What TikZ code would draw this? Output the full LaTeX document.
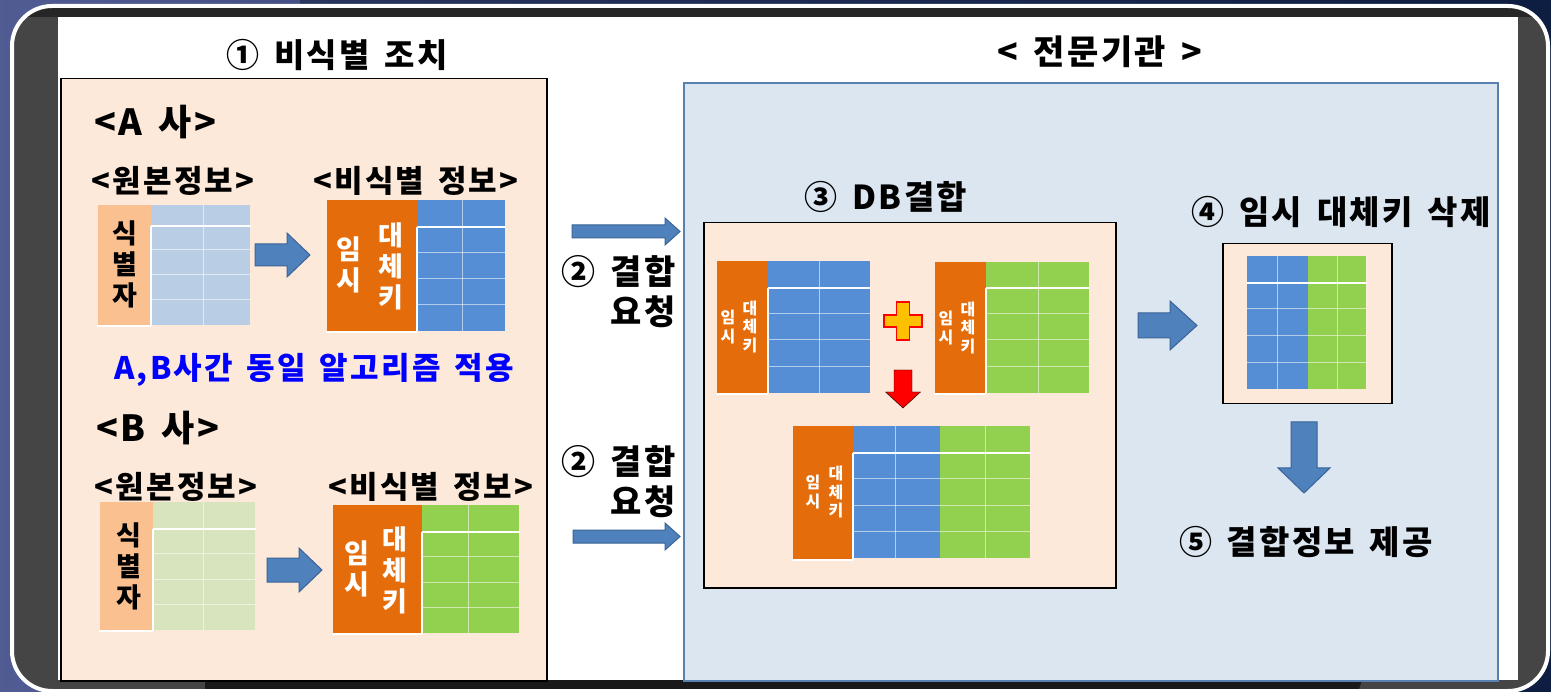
\documentclass[tikz,border=0pt]{standalone}
\usepackage{fontspec}
\setmainfont{Noto Sans CJK KR}[LetterSpace=7, WordSpace=1.5]
\usetikzlibrary{positioning}
\definecolor{navy}{HTML}{10224A}
\definecolor{framegray}{HTML}{454545}
\definecolor{pinkbg}{HTML}{FDE9D9}
\definecolor{lblue}{HTML}{B9CDE5}
\definecolor{lgreen}{HTML}{D7E4BD}
\definecolor{identc}{HTML}{FAC090}
\definecolor{orangec}{HTML}{E46C0A}
\definecolor{bluec}{HTML}{558ED5}
\definecolor{greenc}{HTML}{92D050}
\definecolor{rpanel}{HTML}{DCE6F1}
\definecolor{rborder}{HTML}{5A80B2}
\definecolor{arrowblue}{HTML}{4F81BD}
\definecolor{arrowborder}{HTML}{3A6496}
\definecolor{plusfill}{HTML}{FFC000}
\newcommand\cellblock[7]{%
  \fill[#7] (#1,#4) rectangle (#3,#6);
  \draw[gridline] (#2,#4) -- (#2,#6);
  \foreach \k in {1,2,3}{\pgfmathsetmacro\yy{#5+\k*(#6-#5)/4}\draw[gridline] (#1,\yy) -- (#3,\yy);}
}
\newcommand\hdrline[3]{\draw[white, line width=2.5pt] (#1,#3) -- (#2,#3);}
\newcommand\rarrow[6]{\filldraw[blockarrow] (#1,#4-#5) -- (#2,#4-#5) -- (#2,#4-#6) -- (#3,#4) -- (#2,#4+#6) -- (#2,#4+#5) -- (#1,#4+#5) -- cycle;}
\newcommand\darrow[7]{\filldraw[#7] (#1-#5,#2) -- (#1+#5,#2) -- (#1+#5,#3) -- (#1+#6,#3) -- (#1,#4) -- (#1-#6,#3) -- (#1-#5,#3) -- cycle;}
\begin{document}
\begin{tikzpicture}[x=1pt,y=-1pt,
  title/.style={font=\bfseries\fontsize{33}{36}\selectfont, inner sep=0pt},
  sub/.style={font=\bfseries\fontsize{31}{33}\selectfont, inner sep=0pt},
  req/.style={font=\bfseries\fontsize{34}{40}\selectfont, inner sep=0pt, align=right},
  vtext/.style={font=\bfseries\fontsize{27}{31}\selectfont, align=center, inner sep=0pt},
  vsmall/.style={font=\bfseries\fontsize{16}{18.5}\selectfont, align=center, inner sep=0pt, text=white},
  panel/.style={draw=black, line width=1.5pt, fill=pinkbg, inner sep=0pt, anchor=north west},
  gridline/.style={white, opacity=0.55, line width=1pt},
  blockarrow/.style={fill=arrowblue, draw=arrowborder, line width=1pt},
]
\useasboundingbox (0,0) rectangle (1551,692);
% background frame
\shade[left color=navy!70!blue!60!white!70!navy, right color=navy] (0,0) rectangle (1551,692);
\fill[navy!80!black, opacity=0.5] (300,0) rectangle (1551,692);
\begin{scope}
  \clip[rounded corners=40pt] (12,6) rectangle (1548,691);
  \fill[framegray] (0,0) rectangle (1551,692);
  \fill[black!85] (0,6) rectangle (1551,17);
  \fill[black!90] (205,680) -- (1362,680) -- (1358,692) -- (205,692) -- cycle;
\end{scope}
\draw[white, line width=4pt, rounded corners=40pt] (12,6) rectangle (1548,691);
\fill[white] (58,17) rectangle (1518,680);

% panels
\node[panel, minimum width=486pt, minimum height=602pt] (lp) at (60,78) {};
\node[draw=rborder, line width=1.8pt, fill=rpanel, inner sep=0pt, anchor=north west, minimum width=814pt, minimum height=598pt] (rp) at (683,82) {};

% titles
\node[title] (t1) at (337,55) {① 비식별 조치};
\node[title, font=\bfseries\fontsize{34}{36}\selectfont] (t2) at (1100,52) {< 전문기관 >};

% A company
\node[title, font=\bfseries\fontsize{36}{38}\selectfont, anchor=west] (acomp) at (94,122) {<A 사>};
\node[sub] (aorig) at (173,181) {<원본정보>};
\node[sub] (adeid) at (416,181) {<비식별 정보>};
\fill[identc] (98,205) rectangle (151,325);
\cellblock{151}{203}{250}{205}{225}{325}{lblue}
\hdrline{151}{251}{226}
\draw[white, line width=1.5pt] (151,226) -- (151,325) (97,326) -- (151,326);
\node[vtext] (aid) at (125,264) {식\\별\\자};
\rarrow{255}{287}{310}{255}{11}{22}
\fill[orangec] (327,200) rectangle (417,331);
\cellblock{417}{462}{505}{200}{226}{331}{bluec}
\hdrline{417}{506}{227}
\draw[white, line width=1.5pt] (417,227) -- (417,331) (326,332) -- (417,332);
\node[vtext, text=white] (atmp1) at (349,265) {임\\시};
\node[vtext, text=white] (atmp2) at (391,266) {대\\체\\키};

\node[font=\bfseries\fontsize{31}{33}\selectfont, text=blue, inner sep=0pt] (alg) at (314,370) {A,B사간 동일 알고리즘 적용};

% B company
\node[title, font=\bfseries\fontsize{36}{38}\selectfont, anchor=west] (bcomp) at (96,428) {<B 사>};
\node[sub] (borig) at (176,487) {<원본정보>};
\node[sub] (bdeid) at (431,487) {<비식별 정보>};
\fill[identc] (100,502) rectangle (153,630);
\cellblock{153}{203}{255}{502}{528}{630}{lgreen}
\hdrline{153}{256}{529}
\draw[white, line width=1.5pt] (153,529) -- (153,630) (99,631) -- (153,631);
\node[vtext] (bid) at (129,566) {식\\별\\자};
\rarrow{267}{299}{322}{570}{12}{22}
\fill[orangec] (333,505) rectangle (422,633);
\cellblock{422}{468}{519}{505}{531}{633}{greenc}
\hdrline{422}{520}{532}
\draw[white, line width=1.5pt] (422,532) -- (422,633) (332,634) -- (422,634);
\node[vtext, text=white] (btmp1) at (357,569) {임\\시};
\node[vtext, text=white] (btmp2) at (395,570) {대\\체\\키};

% requests
\rarrow{572}{665}{680}{231.5}{6.5}{13.5}
\node[req, anchor=east] (req1) at (676,292) {② 결합\\요청};
\node[req, anchor=east] (req2) at (676,482) {② 결합\\요청};
\rarrow{573}{665}{680}{536.5}{6.5}{13.5}

% DB join
\node[title] (t3) at (886,197) {③ DB결합};
\node[panel, minimum width=412pt, minimum height=365pt] (db) at (703,222) {};
\fill[orangec] (717,261) rectangle (768,393);
\cellblock{768}{819}{870}{261}{287}{393}{bluec}
\hdrline{768}{871}{288}
\draw[white, line width=1.5pt] (768,288) -- (768,393) (716,394) -- (768,394);
\node[vsmall] (dbat1) at (728,327) {임\\시};
\node[vsmall] (dbat2) at (750,327) {대\\체\\키};
\fill[orangec] (935,262) rectangle (986,393);
\cellblock{986}{1038}{1089}{262}{287}{393}{greenc}
\hdrline{986}{1090}{288}
\draw[white, line width=1.5pt] (986,288) -- (986,393) (934,394) -- (986,394);
\node[vsmall] (dbbt1) at (946,328) {임\\시};
\node[vsmall] (dbbt2) at (968,328) {대\\체\\키};
% plus
\filldraw[fill=plusfill, draw=red, line width=1.2pt]
  (896.5,302) -- (909.5,302) -- (909.5,315) -- (922,315) -- (922,327) -- (909.5,327) -- (909.5,340) -- (896.5,340) -- (896.5,327) -- (884,327) -- (884,315) -- (896.5,315) -- cycle;
\darrow{903}{370}{392}{408}{9}{17.5}{fill=red}
\fill[orangec] (793,426) rectangle (853,559);
\cellblock{853}{895}{940}{426}{452}{558}{bluec}
\cellblock{940}{985}{1030}{426}{452}{558}{greenc}
\hdrline{853}{1031}{453}
\draw[white, line width=1.5pt] (853,453) -- (853,559) (792,560) -- (853,560);
\node[vsmall] (dbct1) at (813,492) {임\\시};
\node[vsmall] (dbct2) at (836,492) {대\\체\\키};

% delete temp key
\rarrow{1138}{1170}{1197}{325.5}{12.5}{24.5}
\node[title] (t4) at (1341,212) {④ 임시 대체키 삭제};
\node[panel, minimum width=169pt, minimum height=160pt] (del) at (1222,243) {};
\cellblock{1247}{1277}{1308}{256}{282}{389}{bluec}
\cellblock{1308}{1337}{1366}{256}{282}{389}{greenc}
\hdrline{1247}{1367}{283}
\darrow{1304}{422}{468}{493}{13}{26}{blockarrow}
\node[title] (t5) at (1306,542) {⑤ 결합정보 제공};
\end{tikzpicture}
\end{document}
